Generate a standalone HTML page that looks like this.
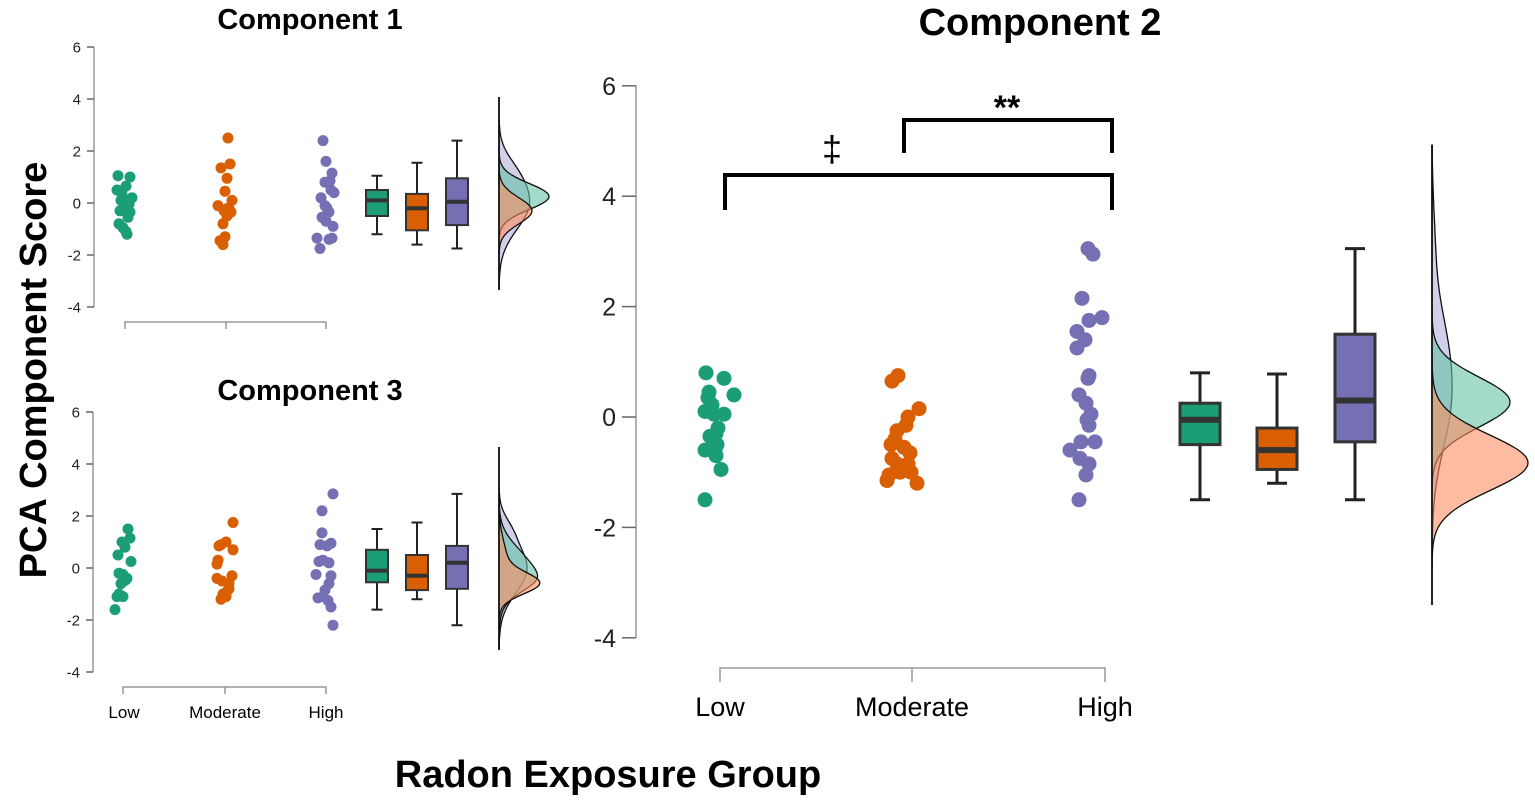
<!DOCTYPE html>
<html><head><meta charset="utf-8"><style>
html,body{margin:0;padding:0;background:#fff;overflow:hidden;}
svg{display:block;font-family:"Liberation Sans",Arial,sans-serif;}
</style></head><body>
<svg id="s" width="1535" height="802" viewBox="0 0 1535 802" xmlns="http://www.w3.org/2000/svg">
<text x="310" y="29" font-size="29" font-weight="bold" text-anchor="middle">Component 1</text>
<text x="310" y="400" font-size="29" font-weight="bold" text-anchor="middle">Component 3</text>
<text x="1040" y="35" font-size="38" font-weight="bold" text-anchor="middle">Component 2</text>
<text transform="translate(46,370) rotate(-90)" font-size="38" font-weight="bold" text-anchor="middle">PCA Component Score</text>
<text x="608" y="787" font-size="38" font-weight="bold" text-anchor="middle">Radon Exposure Group</text>
<text x="124" y="718" font-size="17" text-anchor="middle">Low</text>
<text x="225" y="718" font-size="17" text-anchor="middle">Moderate</text>
<text x="326" y="718" font-size="17" text-anchor="middle">High</text>
<text x="720" y="716" font-size="27" text-anchor="middle">Low</text>
<text x="912" y="716" font-size="27" text-anchor="middle">Moderate</text>
<text x="1105" y="716" font-size="27" text-anchor="middle">High</text>
<g fill="none" stroke="#000" stroke-width="4">
<path d="M725 210 V175 H1112 V210"/>
<path d="M904 153 V120 H1112 V153"/>
</g>
<text x="832" y="161" font-size="36" text-anchor="middle">‡</text>
<text x="1007" y="119" font-size="34" font-weight="bold" text-anchor="middle">**</text>
<g id="g"></g>
</svg>
<script>
var G=document.getElementById('g'),h='';
var C=['#1b9e77','#d95f02','#7570b3'],F=['#66c2a5','#fc8d62','#b3b0dd'];
function panel(o){
 var Y=function(v){return o.y0-o.k*v;};
 h+='<line x1="'+o.ax+'" y1="'+Y(6)+'" x2="'+o.ax+'" y2="'+Y(-4)+'" stroke="#999" stroke-width="1.5"/>';
 for(var v=-4;v<=6;v+=2){h+='<line x1="'+(o.ax-o.tl)+'" y1="'+Y(v)+'" x2="'+o.ax+'" y2="'+Y(v)+'" stroke="#666" stroke-width="1.5"/>';
  h+='<text x="'+(o.ax-o.tl-6)+'" y="'+(Y(v)+o.fs*0.36)+'" font-size="'+o.fs+'" text-anchor="end" fill="#222">'+v+'</text>';}
 h+='<path d="M'+o.xs[0]+' '+(o.xa+o.tl)+'V'+o.xa+'H'+o.xs[2]+'V'+(o.xa+o.tl)+'M'+o.xs[1]+' '+o.xa+'v'+o.tl+'" fill="none" stroke="#999" stroke-width="1.5"/>';
 for(var g=0;g<3;g++){var p=o.pts[g];for(var i=0;i<p.length;i++){
  h+='<circle cx="'+(o.xs[g]+p[i][0]*o.js)+'" cy="'+Y(p[i][1])+'" r="'+o.r+'" fill="'+C[g]+'"/>';}}
 for(g=0;g<3;g++){var b=o.box[g],cx=o.bx[g],w=o.bw;
  h+='<path d="M'+cx+' '+Y(b[0])+'V'+Y(b[1])+'M'+cx+' '+Y(b[3])+'V'+Y(b[4])+'M'+(cx-w/4)+' '+Y(b[0])+'h'+(w/2)+'M'+(cx-w/4)+' '+Y(b[4])+'h'+(w/2)+'" stroke="#222" stroke-width="'+o.sw+'" fill="none"/>';
  h+='<rect x="'+(cx-w/2)+'" y="'+Y(b[3])+'" width="'+w+'" height="'+(Y(b[1])-Y(b[3]))+'" fill="'+C[g]+'" stroke="#333" stroke-width="'+o.sw+'"/>';
  h+='<line x1="'+(cx-w/2)+'" y1="'+Y(b[2])+'" x2="'+(cx+w/2)+'" y2="'+Y(b[2])+'" stroke="#333" stroke-width="'+(o.sw*2)+'"/>';}
 var order=[2,0,1];
 for(var j=0;j<3;j++){g=order[j];var d=o.den[g],s='M'+o.dx+' '+o.dt;
  for(var y=o.dt;y<=o.db;y+=2){var v=(o.y0-y)/o.k,f=0;for(var q=0;q<d.length;q++){var z=(v-d[q][0])/d[q][1];f+=d[q][2]*Math.exp(-z*z/2);}
   s+='L'+(o.dx+f).toFixed(1)+' '+y;}
  s+='L'+o.dx+' '+o.db+'Z';
  h+='<path d="'+s+'" fill="'+F[g]+'" fill-opacity="0.6" stroke="#111" stroke-width="1.3"/>';}
 h+='<line x1="'+o.dx+'" y1="'+o.dt+'" x2="'+o.dx+'" y2="'+o.db+'" stroke="#111" stroke-width="1.5"/>';
}
panel({y0:203,k:26,ax:94,tl:7,fs:15,xa:322,xs:[125,226,326],r:5.5,js:1,bx:[377,417,457],bw:22,sw:2,dx:499,dt:97,db:290,
 pts:[[[-7,1.05],[5,1.0],[1,0.65],[-8,0.5],[-3,0.45],[7,0.2],[0,0.15],[-4,0.1],[4,-0.05],[-1,-0.2],[-5,-0.3],[3,-0.55],[-6,-0.8],[-2,-0.95],[1,-1.1],[2,-1.2],[-3,0.2],[5,-0.35]],
  [[2,2.5],[-5,1.35],[4,1.5],[1,0.95],[-1,0.45],[6,0.1],[-8,-0.1],[3,-0.2],[5,-0.35],[-2,-0.3],[1,-0.5],[-3,-0.8],[-1,-1.3],[-6,-1.45],[-3,-1.6],[2,-0.2]],
  [[-3,2.4],[0,1.6],[6,1.15],[4,0.85],[-1,0.8],[8,0.4],[5,0.5],[-5,0.2],[-1,-0.1],[3,-0.35],[-4,-0.55],[0,-0.7],[7,-0.9],[-9,-1.35],[3,-1.4],[6,-1.35],[-6,-1.75],[1,-0.2]]],
 box:[[-1.2,-0.5,0.1,0.5,1.05],[-1.6,-1.05,-0.2,0.35,1.55],[-1.75,-0.85,0.05,0.95,2.4]],
 den:[[[0.25,0.5,50]],[[-0.3,0.5,33]],[[0,1.0,30],[1.3,0.6,6]]]});
panel({y0:568,k:26,ax:93,tl:7,fs:15,xa:687,xs:[123,225,326],r:5.5,js:1,bx:[377,417,457],bw:22,sw:2,dx:499,dt:447,db:650,
 pts:[[[5,1.5],[7,1.15],[-1,1.0],[2,0.8],[-5,0.5],[8,0.25],[-4,-0.2],[0,-0.25],[4,-0.4],[1,-0.5],[-2,-0.6],[-4,-1.0],[-6,-1.1],[0,-1.1],[-8,-1.6],[3,-0.45]],
  [[8,1.75],[1,1.0],[-6,0.85],[-4,0.9],[8,0.7],[-7,0.3],[-8,0.15],[-8,-0.4],[-3,-0.5],[7,-0.3],[4,-0.6],[2,-0.9],[-4,-1.2],[1,-1.1],[-2,-1.0],[4,-0.8]],
  [[7,2.85],[-4,2.2],[-4,1.35],[5,0.95],[-6,0.9],[1,0.85],[-7,0.25],[3,0.2],[-3,0.3],[-10,-0.25],[5,-0.3],[3,-0.6],[-1,-0.85],[-8,-1.15],[-3,-1.1],[2,-1.25],[5,-1.5],[7,-2.2]]],
 box:[[-1.6,-0.55,-0.1,0.7,1.5],[-1.2,-0.85,-0.3,0.5,1.75],[-2.2,-0.8,0.2,0.85,2.85]],
 den:[[[0,0.8,30],[-0.5,0.4,12]],[[-0.6,0.4,36],[0.2,0.8,8]],[[0,0.95,28],[1.5,0.5,6]]]});
panel({y0:417,k:55.2,ax:636,tl:14,fs:25,xa:668,xs:[720,912,1105],r:7.5,js:1,bx:[1200,1277,1355],bw:40,sw:3,dx:1432,dt:145,db:605,
 pts:[[[-14,0.8],[4,0.7],[-11,0.45],[-12,0.35],[14,0.4],[-8,0.22],[-15,0.1],[-6,0.05],[4,0.05],[-2,-0.2],[-10,-0.35],[-4,-0.3],[-3,-0.5],[-15,-0.6],[-5,-0.6],[-4,-0.7],[1,-0.95],[-15,-1.5]],
  [[-20,0.65],[-14,0.75],[7,0.15],[-4,0.0],[-6,-0.15],[-15,-0.25],[-21,-0.5],[-17,-0.4],[-8,-0.55],[-2,-0.65],[-20,-0.75],[-15,-0.85],[-4,-0.85],[-23,-1.05],[-12,-1.0],[-1,-1.0],[-25,-1.15],[5,-1.2]],
  [[-17,3.05],[-12,2.95],[-23,2.15],[-3,1.8],[-16,1.75],[-28,1.55],[-20,1.4],[-28,1.25],[-16,0.75],[-17,0.7],[-26,0.4],[-19,0.25],[-14,0.05],[-18,-0.05],[-16,-0.15],[-24,-0.45],[-10,-0.45],[-35,-0.6],[-25,-0.75],[-16,-0.85],[-19,-1.05],[-26,-1.5]]],
 box:[[-1.5,-0.5,-0.05,0.25,0.8],[-1.2,-0.95,-0.6,-0.2,0.78],[-1.5,-0.45,0.3,1.5,3.05]],
 den:[[[0.27,0.45,78]],[[-0.83,0.5,96]],[[0.3,0.9,18],[1.5,0.7,7],[3.0,0.8,3]]]});
G.innerHTML=h;
</script>
</body></html>
